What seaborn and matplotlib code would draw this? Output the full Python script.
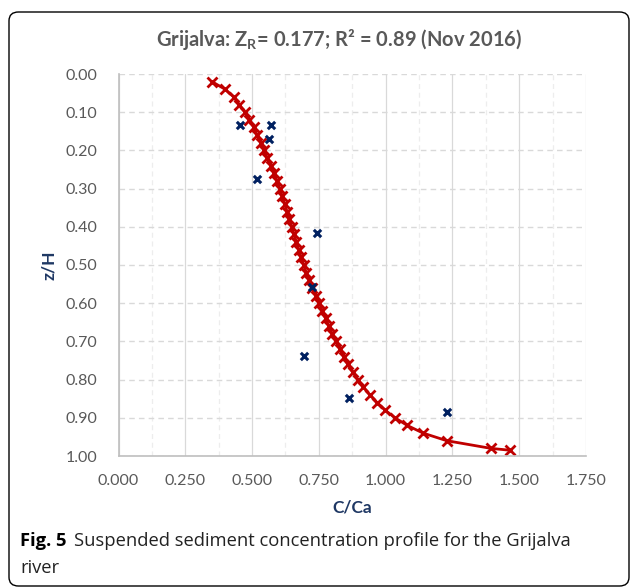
import matplotlib
matplotlib.use("Agg")
import matplotlib.pyplot as plt
import seaborn as sns
import pandas as pd
import numpy as np
from matplotlib.patches import FancyBboxPatch
from matplotlib.ticker import MultipleLocator, FormatStrFormatter

# ---- data ----
fit_zH = [0.02, 0.04, 0.06, 0.08, 0.10, 0.12, 0.14, 0.16, 0.18, 0.20,
          0.22, 0.24, 0.26, 0.28, 0.30, 0.32, 0.34, 0.36, 0.38, 0.40,
          0.42, 0.44, 0.46, 0.48, 0.50, 0.52, 0.54, 0.56, 0.58, 0.60,
          0.62, 0.64, 0.66, 0.68, 0.70, 0.72, 0.74, 0.76, 0.78, 0.80,
          0.82, 0.84, 0.86, 0.88, 0.90, 0.92, 0.94, 0.96, 0.98, 0.985]
fit_CCa = [0.350, 0.399, 0.431, 0.452, 0.473, 0.490, 0.507, 0.519, 0.532, 0.545,
           0.557, 0.570, 0.582, 0.594, 0.604, 0.613, 0.622, 0.631, 0.640, 0.649,
           0.657, 0.666, 0.675, 0.684, 0.693, 0.703, 0.714, 0.725, 0.738, 0.752,
           0.763, 0.775, 0.788, 0.800, 0.814, 0.829, 0.843, 0.858, 0.876, 0.896,
           0.917, 0.941, 0.968, 0.998, 1.035, 1.081, 1.140, 1.229, 1.394, 1.466]

obs_CCa = [0.454, 0.569, 0.565, 0.519, 0.742, 0.726, 0.693, 0.864, 1.229]
obs_zH = [0.134, 0.134, 0.169, 0.274, 0.415, 0.558, 0.738, 0.847, 0.884]

x_ticks = [0.0, 0.25, 0.5, 0.75, 1.0, 1.25, 1.5, 1.75]
y_ticks = [0.0, 0.1, 0.2, 0.3, 0.4, 0.5, 0.6, 0.7, 0.8, 0.9, 1.0]

title_txt = "Grijalva: Z$_\\mathregular{R}$= 0.177; R² = 0.89 (Nov 2016)"
x_label = "C/Ca"
y_label = "z/H"
cap_bold = "Fig. 5"
cap_line1 = "Suspended sediment concentration profile for the Grijalva"
cap_line2 = "river"

fit_df = pd.DataFrame({"C/Ca": fit_CCa, "z/H": fit_zH})
obs_df = pd.DataFrame({"C/Ca": obs_CCa, "z/H": obs_zH})

# ---- figure ----
sns.set_theme(style="white")
plt.rcParams["font.family"] = ["Lato", "DejaVu Sans"]

fig = plt.figure(figsize=(6.3, 5.88), dpi=100)
ax = fig.add_axes([118.5 / 630, 1 - 456 / 588, (586 - 118.5) / 630, (456 - 74) / 588])

ax.set_xlim(0, 1.75)
ax.set_ylim(1.0, 0.0)
ax.set_xticks(x_ticks)
ax.set_yticks(y_ticks)
ax.xaxis.set_minor_locator(MultipleLocator(0.125))
ax.xaxis.set_major_formatter(FormatStrFormatter("%.3f"))
ax.yaxis.set_major_formatter(FormatStrFormatter("%.2f"))
ax.grid(which="major", axis="x", color="#D9D9D9", lw=0.9, ls="-")
ax.grid(which="minor", axis="x", color="#EDEDED", lw=0.9, ls=(0, (4, 3)))
ax.grid(which="major", axis="y", color="#D9D9D9", lw=1.0, ls=(0, (4, 3)))
ax.set_axisbelow(True)

sns.lineplot(data=fit_df, x="C/Ca", y="z/H", sort=False, ax=ax,
             color="#C00000", lw=2.0, marker="x", markersize=6.5,
             markeredgewidth=2.0, markeredgecolor="#C00000")
sns.scatterplot(data=obs_df, x="C/Ca", y="z/H", ax=ax, marker="x",
                color="#002060", s=28, linewidth=2.2, zorder=5)

for side in ["top", "right"]:
    ax.spines[side].set_visible(False)
for side in ["left", "bottom"]:
    ax.spines[side].set_color("#BFBFBF")
    ax.spines[side].set_linewidth(1.2)

ax.tick_params(axis="both", which="both", length=0, labelsize=11.5,
               labelcolor="#595959")
ax.tick_params(axis="x", pad=13)
ax.tick_params(axis="y", pad=15)

ax.set_xlabel(x_label, fontsize=12.5, fontweight="bold", color="#1F3864", labelpad=8)
ax.set_ylabel(y_label, fontsize=12.5, fontweight="bold", color="#1F3864", labelpad=6)

fig.text(339 / 630, 1 - 40 / 588, title_txt, ha="center", va="center",
         fontsize=14.5, fontweight="bold", color="#595959")

# caption
cap_fam = ["Open Sans", "DejaVu Sans"]
fig.text(20 / 630, 1 - 541 / 588, cap_bold, ha="left", va="center",
         fontsize=13.2, fontweight="bold", color="black", family=cap_fam)
fig.text(74 / 630, 1 - 541 / 588, cap_line1, ha="left", va="center",
         fontsize=13.2, color="#222222", family=cap_fam)
fig.text(20 / 630, 1 - 568 / 588, cap_line2, ha="left", va="center",
         fontsize=13.2, color="#222222", family=cap_fam)

# frame
frame = FancyBboxPatch((9 / 630, 2 / 588), (629 - 9) / 630, (576 - 2) / 588,
                       boxstyle="round,pad=0,rounding_size=0.015",
                       transform=fig.transFigure, fill=False, ec="black",
                       lw=1.0, clip_on=False)
fig.patches.append(frame)

fig.savefig("out.png", dpi=100)
